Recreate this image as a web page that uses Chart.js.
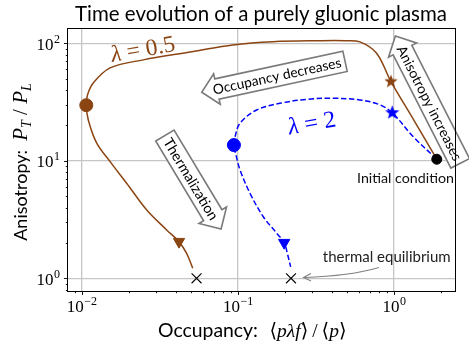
<!DOCTYPE html>
<html lang="en">
<head>
<meta charset="UTF-8">
<title>Time evolution of a purely gluonic plasma</title>
<script src="https://cdn.jsdelivr.net/npm/chart.js"></script>
<style>
  html, body { margin: 0; padding: 0; background: #fff; }
</style>
</head>
<body>
<canvas id="plasmaChart" width="469" height="344"></canvas>
<script>
// lambda = 0.5 trajectory (occupancy, anisotropy)
const brownX = [1.88, 1.34, 0.957, 0.774, 0.605, 0.485, 0.336, 0.168, 0.093, 0.0519, 0.0248, 0.0152, 0.01186, 0.01089, 0.0107, 0.01102, 0.01248, 0.0152, 0.0194, 0.0261, 0.035, 0.042, 0.047, 0.0514];
const brownY = [10.3, 22.2, 47.1, 82.2, 102.6, 105, 105, 103, 96.7, 84.9, 72.1, 61.6, 45.9, 36.3, 29.7, 22.2, 14.1, 9.83, 6.44, 3.81, 2.58, 2.05, 1.63, 1.22];

// lambda = 2 trajectory
const blueX = [1.88, 1.33, 0.975, 0.813, 0.605, 0.408, 0.276, 0.186, 0.132, 0.1033, 0.096, 0.0944, 0.0973, 0.1033, 0.1197, 0.1456, 0.1774, 0.198, 0.2075, 0.218];
const blueY = [10.3, 16.0, 25.6, 29.9, 32.9, 34.0, 33.3, 30.8, 27.0, 20.9, 16.0, 13.6, 11.2, 8.35, 5.28, 3.34, 2.42, 2.01, 1.63, 1.25];

// markers along the trajectories: [lambda=0.5, lambda=2]
const initPoint = [1.88, 10.3];
const starX = [0.957, 0.975];
const starY = [47.1, 25.6];
const circleX = [0.0107, 0.0944];
const circleY = [29.7, 13.6];
const triX = [0.042, 0.198];
const triY = [2.05, 2.01];
const equilX = [0.0544, 0.219];
const equilY = [1.0, 1.0];

// axis ranges and labelled decades
const xRange = [0.00817, 2.46];
const yRange = [0.78, 132];
const xDecades = [-2, -1, 0];
const yDecades = [0, 1, 2];

const BROWN = '#8B4513';
const BLUE = '#0000ff';
const SANS = "Lato, 'DejaVu Sans', sans-serif";
const SERIF = "'Liberation Serif', 'DejaVu Serif', serif";

function pts(xs, ys) {
  return xs.map((x, i) => ({x: x, y: ys[i]}));
}

function isPow10(v) {
  const l = Math.log10(v);
  return Math.abs(l - Math.round(l)) < 1e-9;
}

function logTicks(min, max) {
  const out = [];
  for (let e = Math.floor(Math.log10(min)); e <= Math.ceil(Math.log10(max)); e++) {
    for (let m = 1; m <= 9; m++) {
      const v = parseFloat((m * Math.pow(10, e)).toPrecision(6));
      if (v >= min && v <= max) out.push({value: v});
    }
  }
  return out;
}

function makeStar(color, r) {
  const c = document.createElement('canvas');
  const s = Math.ceil(r * 2 + 2);
  c.width = s; c.height = s;
  const g = c.getContext('2d');
  g.fillStyle = color;
  g.beginPath();
  for (let i = 0; i < 10; i++) {
    const rad = i % 2 === 0 ? r : r * 0.42;
    const a = -Math.PI / 2 + i * Math.PI / 5;
    g.lineTo(s / 2 + rad * Math.cos(a), s / 2 + rad * Math.sin(a));
  }
  g.closePath();
  g.fill();
  return c;
}

function segWidth(ctx, segs, k) {
  let w = 0;
  for (const s of segs) {
    ctx.font = `${s.style || ''} ${s.size * k}px ${s.fam}`;
    w += ctx.measureText(s.t).width;
  }
  return w;
}

// draws a run of text pieces centred on cx, optionally fitted to a width
function drawSegs(ctx, segs, cx, by, target, color) {
  let k = 1;
  if (target) k = target / segWidth(ctx, segs, 1);
  let x = cx - segWidth(ctx, segs, k) / 2;
  ctx.textAlign = 'left';
  ctx.textBaseline = 'alphabetic';
  ctx.fillStyle = color || '#000';
  for (const s of segs) {
    ctx.font = `${s.style || ''} ${s.size * k}px ${s.fam}`;
    ctx.fillText(s.t, x, by + (s.dy || 0) * k);
    x += ctx.measureText(s.t).width;
  }
}

// matplotlib-like larrow / rarrow text box
function arrowBox(ctx, cx, cy, deg, text, target, dir) {
  ctx.save();
  ctx.translate(cx, cy);
  ctx.rotate(deg * Math.PI / 180);
  ctx.font = `100px ${SANS}`;
  const size = 100 * target / ctx.measureText(text).width;
  ctx.font = `${size}px ${SANS}`;
  const w = ctx.measureText(text).width;
  const pad = 0.3 * size;
  const W = w + 2 * pad, H = 0.9 * size + 2 * pad;
  let x0 = -W / 2 + pad / 1.4;
  const x1 = W / 2, y0 = -H / 2, y1 = H / 2;
  const dx = H / 2, dxx = H / 4;
  const corners = [[x0 + dxx, y0], [x1, y0], [x1, y1], [x0 + dxx, y1],
                   [x0 + dxx, y1 + dxx], [x0 - dx, 0], [x0 + dxx, y0 - dxx]];
  const s = dir === 'left' ? 1 : -1;
  ctx.beginPath();
  corners.forEach(([px, py], i) => i ? ctx.lineTo(s * px, py) : ctx.moveTo(s * px, py));
  ctx.closePath();
  ctx.fillStyle = '#fff';
  ctx.fill();
  ctx.strokeStyle = '#7a7a7a';
  ctx.lineWidth = 1.6;
  ctx.lineJoin = 'miter';
  ctx.stroke();
  ctx.fillStyle = '#000';
  ctx.textAlign = 'center';
  ctx.textBaseline = 'middle';
  ctx.fillText(text, 0, 0.5);
  ctx.restore();
}

function supLabel(ctx, exp, x, by, align) {
  const e = exp < 0 ? '\u2212' + Math.abs(exp) : String(exp);
  ctx.font = `17px ${SERIF}`;
  const wb = ctx.measureText('10').width;
  ctx.font = `12px ${SERIF}`;
  const we = ctx.measureText(e).width;
  const left = align === 'right' ? x - wb - we : x - (wb + we) / 2;
  ctx.textAlign = 'left';
  ctx.textBaseline = 'alphabetic';
  ctx.fillStyle = '#000';
  ctx.font = `17px ${SERIF}`;
  ctx.fillText('10', left, by);
  ctx.font = `12px ${SERIF}`;
  ctx.fillText(e, left + wb + 0.5, by - 7);
}

const decor = {
  id: 'decor',
  beforeDatasetsDraw(chart) {
    const ctx = chart.ctx;
    arrowBox(ctx, 277, 76, -12.2, 'Occupancy decreases', 131, 'left');
    arrowBox(ctx, 191, 179, 59, 'Thermalization', 93, 'right');
    arrowBox(ctx, 429.5, 103, 63, 'Anisotropy increases', 127, 'left');
  },
  afterDraw(chart) {
    const ctx = chart.ctx;
    const a = chart.chartArea;
    const xs = chart.scales.x, ys = chart.scales.y;
    ctx.save();

    // frame
    ctx.strokeStyle = '#000';
    ctx.lineWidth = 1;
    ctx.strokeRect(a.left - 0.5, a.top - 0.5, a.right - a.left + 1, a.bottom - a.top + 1);

    // tick marks, outward
    ctx.beginPath();
    xs.ticks.forEach(t => {
      const p = Math.round(xs.getPixelForValue(t.value)) + 0.5;
      ctx.moveTo(p, a.bottom);
      ctx.lineTo(p, a.bottom + (isPow10(t.value) ? 4 : 2.2));
    });
    ys.ticks.forEach(t => {
      const p = Math.round(ys.getPixelForValue(t.value)) + 0.5;
      ctx.moveTo(a.left, p);
      ctx.lineTo(a.left - (isPow10(t.value) ? 4 : 2.2), p);
    });
    ctx.lineWidth = 0.9;
    ctx.stroke();

    // tick labels
    xDecades.forEach(e => supLabel(ctx, e, xs.getPixelForValue(Math.pow(10, e)), a.bottom + 21, 'center'));
    yDecades.forEach(e => supLabel(ctx, e, a.left - 8.5, ys.getPixelForValue(Math.pow(10, e)) + 6.5, 'right'));

    // title
    drawSegs(ctx, [{t: 'Time evolution of a purely gluonic plasma', size: 17.5, fam: SANS}], 261, 20.5, 372);

    // x axis title: words, then the ratio in math type
    drawSegs(ctx, [{t: 'Occupancy:', size: 18, fam: SANS}], 158 + 50, 337, 100);
    drawSegs(ctx, [
      {t: '\u27e8', size: 19.5, fam: SERIF},
      {t: 'p\u03bbf', size: 19.5, fam: SERIF, style: 'italic'},
      {t: '\u27e9\u2009/\u2009\u27e8', size: 19.5, fam: SERIF},
      {t: 'p', size: 19.5, fam: SERIF, style: 'italic'},
      {t: '\u27e9', size: 19.5, fam: SERIF}
    ], 308, 337);

    // y axis title
    ctx.save();
    ctx.translate(27, 162);
    ctx.rotate(-Math.PI / 2);
    drawSegs(ctx, [
      {t: 'Anisotropy:  ', size: 18, fam: SANS},
      {t: 'P', size: 21, fam: SERIF, style: 'italic'},
      {t: 'T', size: 14, fam: SERIF, style: 'italic', dy: 4},
      {t: ' / ', size: 21, fam: SERIF},
      {t: 'P', size: 21, fam: SERIF, style: 'italic'},
      {t: 'L', size: 14, fam: SERIF, style: 'italic', dy: 4}
    ], 0, 0);
    ctx.restore();

    // curve labels
    ctx.save();
    ctx.translate(143, 50);
    ctx.rotate(-10 * Math.PI / 180);
    drawSegs(ctx, [
      {t: '\u03bb', size: 19, fam: SERIF, style: 'italic'},
      {t: ' = 0.5', size: 19, fam: SERIF}
    ], 0, 6.5, 65, BROWN);
    ctx.restore();

    ctx.save();
    ctx.translate(312, 124);
    ctx.rotate(-10 * Math.PI / 180);
    drawSegs(ctx, [
      {t: '\u03bb', size: 19, fam: SERIF, style: 'italic'},
      {t: ' = 2', size: 19, fam: SERIF}
    ], 0, 6.5, 48, BLUE);
    ctx.restore();

    // text notes
    drawSegs(ctx, [{t: 'Initial condition', size: 13, fam: SANS}], 454 - 48.5, 183, 97, '#111');
    drawSegs(ctx, [{t: 'thermal equilibrium', size: 13, fam: SANS}], 322.7 + 64, 261.7, 128, '#222');

    // curved pointer to the equilibrium point
    ctx.strokeStyle = '#808080';
    ctx.lineWidth = 1.1;
    ctx.beginPath();
    ctx.moveTo(379, 267.5);
    ctx.quadraticCurveTo(350, 276, 304, 277.5);
    ctx.moveTo(311, 273.5);
    ctx.lineTo(303.5, 277.5);
    ctx.lineTo(311, 281);
    ctx.stroke();

    ctx.restore();
  }
};

const ctx = document.getElementById('plasmaChart').getContext('2d');
new Chart(ctx, {
  type: 'scatter',
  data: {
    datasets: [
      {
        data: pts(brownX, brownY), showLine: true, borderColor: BROWN, borderWidth: 1.5,
        pointRadius: 0, tension: 0.35, order: 2
      },
      {
        data: pts(blueX, blueY), showLine: true, borderColor: BLUE, borderWidth: 1.5,
        borderDash: [5.5, 2.6], pointRadius: 0, tension: 0.35, order: 2
      },
      {
        data: [{x: initPoint[0], y: initPoint[1]}], pointStyle: 'circle', pointRadius: 5,
        backgroundColor: '#000', borderColor: '#000', order: 1
      },
      {
        data: pts(circleX, circleY), pointStyle: 'circle', pointRadius: 6.5,
        backgroundColor: [BROWN, BLUE], borderColor: [BROWN, BLUE], order: 1
      },
      {
        data: pts(starX, starY), pointStyle: [makeStar(BROWN, 7), makeStar(BLUE, 7.5)], order: 1
      },
      {
        data: pts(triX, triY), pointStyle: 'triangle', rotation: 180, pointRadius: 6.5,
        backgroundColor: [BROWN, BLUE], borderColor: [BROWN, BLUE], order: 1
      },
      {
        data: pts(equilX, equilY), pointStyle: 'crossRot', pointRadius: 7,
        borderColor: '#000', borderWidth: 1.1, order: 1
      }
    ]
  },
  options: {
    responsive: false,
    animation: false,
    events: [],
    layout: { padding: { left: 0, right: 14, top: 29, bottom: 0 } },
    plugins: { legend: { display: false }, tooltip: { enabled: false } },
    scales: {
      x: {
        type: 'logarithmic',
        min: xRange[0], max: xRange[1],
        afterBuildTicks: s => { s.ticks = logTicks(s.min, s.max); },
        afterFit: s => { s.height = 53; },
        ticks: { display: false },
        border: { display: false },
        grid: {
          drawTicks: false,
          lineWidth: 1.3,
          color: c => (c.tick && isPow10(c.tick.value)) ? '#c6c6c6' : 'rgba(0,0,0,0)'
        }
      },
      y: {
        type: 'logarithmic',
        min: yRange[0], max: yRange[1],
        afterBuildTicks: s => { s.ticks = logTicks(s.min, s.max); },
        afterFit: s => { s.width = 68; },
        ticks: { display: false },
        border: { display: false },
        grid: {
          drawTicks: false,
          lineWidth: 1.3,
          color: c => (c.tick && isPow10(c.tick.value)) ? '#c6c6c6' : 'rgba(0,0,0,0)'
        }
      }
    }
  },
  plugins: [decor]
});
</script>
</body>
</html>
